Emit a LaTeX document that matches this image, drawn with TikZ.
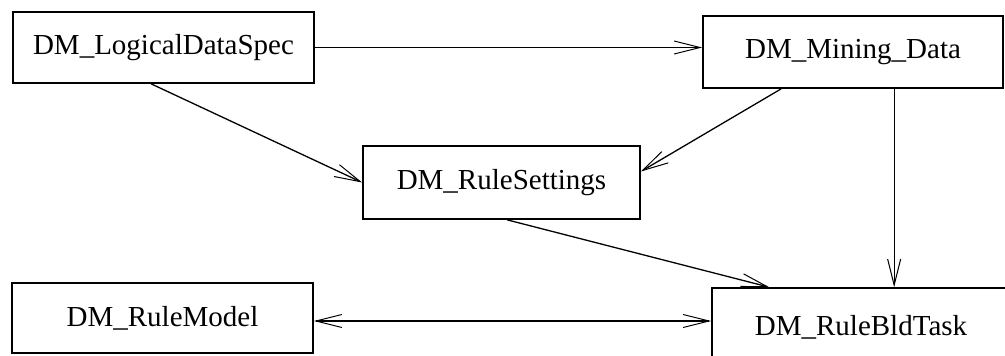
\documentclass[tikz,border=0pt]{standalone}
\usepackage{fontspec}
\setmainfont{Liberation Serif}
\usetikzlibrary{arrows.meta,calc}
\begin{document}
\begin{tikzpicture}[x=1pt,y=-1pt,
  box/.style={draw=black,line width=1.7pt,rectangle,inner sep=0pt,font=\fontsize{29}{31}\selectfont,fill=white},
  conn/.style={line width=1.3pt,-{Straight Barb[length=26pt,width=13pt,line width=1pt]}},
  dconn/.style={line width=1.3pt,{Straight Barb[length=26pt,width=13pt,line width=1pt]}-{Straight Barb[length=26pt,width=13pt,line width=1pt]}}]
\useasboundingbox (0,0) rectangle (1005,356);
\clip (0,0) rectangle (1005,356);
\fill[white] (0,0) rectangle (1005,356);
\node[box,minimum width=301pt,minimum height=71pt] (lds) at (163.5,47.5) {DM\_LogicalDataSpec};
\node[box,minimum width=300pt,minimum height=72pt] (md) at (853,52) {DM\_Mining\_Data};
\node[box,minimum width=277pt,minimum height=73pt] (rs) at (501.5,182.5) {DM\_RuleSettings};
\node[box,minimum width=301pt,minimum height=70pt] (rm) at (162.5,318) {DM\_RuleModel};
\node[box,minimum width=298pt,minimum height=78pt] (rbt) at (861,327) {DM\_RuleBldTask};
\draw[conn] (lds.east) -- (lds.east -| md.west);
\draw[conn] ([xshift=139pt]lds.south west) -- (rs.west);
\draw[conn] ([xshift=79pt]md.south west) -- ([yshift=11pt]rs.east);
\draw[conn] ([xshift=192pt]md.south west) -- ([xshift=192pt]md.south west |- rbt.north);
\draw[conn] ([xshift=145pt]rs.south west) -- ([xshift=58pt]rbt.north west);
\draw[dconn] ([yshift=-3pt]rm.east) -- ([yshift=-3pt]rm.east -| rbt.west);
\end{tikzpicture}
\end{document}
